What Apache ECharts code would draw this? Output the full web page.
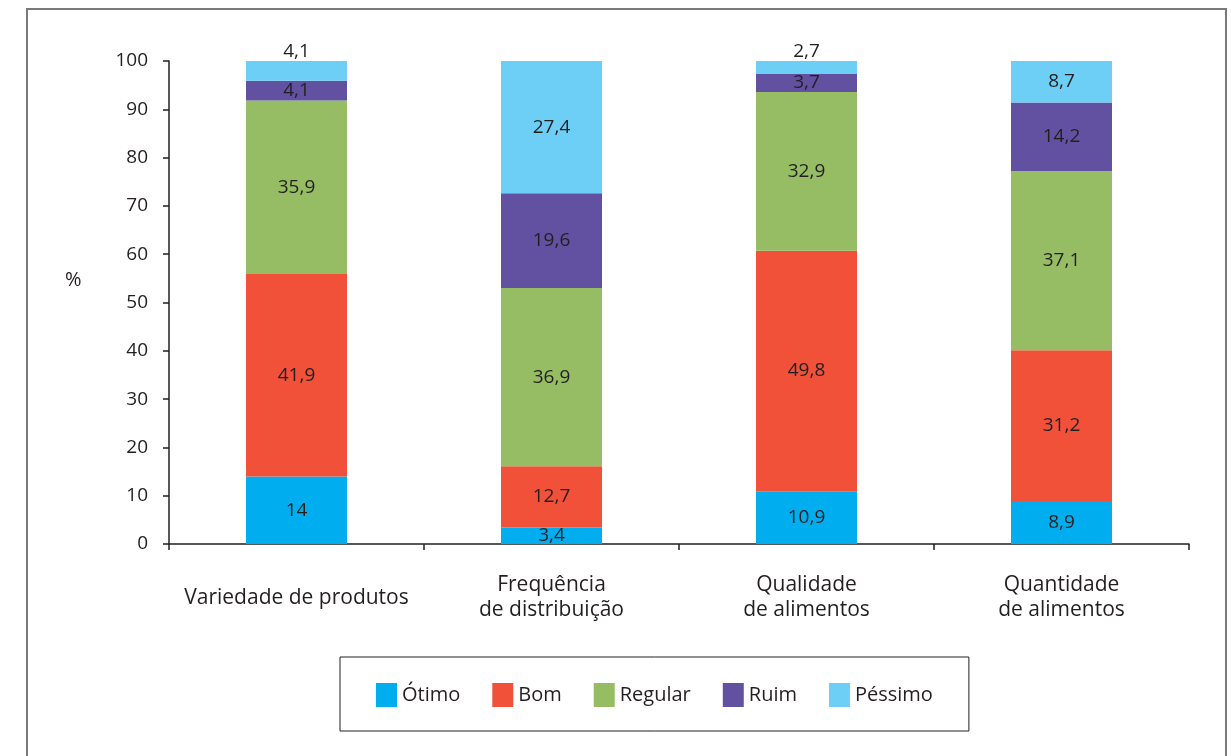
<!DOCTYPE html>
<html>
<head>
<meta charset="utf-8">
<script src="https://cdn.jsdelivr.net/npm/echarts@6/dist/echarts.min.js"></script>
<style>
  html, body { margin: 0; padding: 0; background: #fff; }
  #chart { width: 1231px; height: 756px; }
</style>
</head>
<body>
<div id="chart"></div>
<script>
var categories = ['Variedade de produtos', 'Frequência\nde distribuição', 'Qualidade\nde alimentos', 'Quantidade\nde alimentos'];
var otimo = [14, 3.4, 10.9, 8.9];
var bom = [41.9, 12.7, 49.8, 31.2];
var regular = [35.9, 36.9, 32.9, 37.1];
var ruim = [4.1, 19.6, 3.7, 14.2];
var pessimo = [4.1, 27.4, 2.7, 8.7];
var yTicks = [0, 10, 20, 30, 40, 50, 60, 70, 80, 90, 100];

var font = 'Open Sans';

function fmt(p) {
    return String(p.value).replace('.', ',');
}

function makeSeries(name, values, color, smallOnTop) {
    return {
        name: name,
        type: 'bar',
        stack: 'total',
        barWidth: 101,
        itemStyle: { color: color },
        label: {
            show: true,
            position: 'inside',
            color: '#231f20',
            fontFamily: font,
            fontSize: 19,
            formatter: fmt
        },
        data: values.map(function (v) {
            // tiny top segments get their label above the bar
            if (smallOnTop && v < 5) {
                return { value: v, label: { position: 'top', distance: 0 } };
            }
            return v;
        })
    };
}

var chart = echarts.init(document.getElementById('chart'));
chart.setOption({
    backgroundColor: '#fff',
    animation: false,
    textStyle: { fontFamily: font },
    graphic: [{
        type: 'rect',
        shape: { x: 27, y: 9, width: 1199, height: 770 },
        style: { fill: 'none', stroke: '#7a7a7a', lineWidth: 2 }
    }, {
        type: 'text',
        left: 65,
        top: 270,
        style: { text: '%', font: '20px "Open Sans"', fill: '#231f20' }
    }],
    grid: { left: 169, right: 42, top: 61, bottom: 212 },
    legend: {
        left: 340,
        top: 657,
        padding: [26, 36, 24, 36],
        borderColor: '#231f20',
        borderWidth: 1,
        itemWidth: 21,
        itemHeight: 24,
        itemGap: 32,
        icon: 'rect',
        textStyle: { fontFamily: font, fontSize: 20, color: '#231f20' },
        data: ['Ótimo', 'Bom', 'Regular', 'Ruim', 'Péssimo']
    },
    xAxis: {
        type: 'category',
        data: categories,
        boundaryGap: true,
        axisLine: { lineStyle: { color: '#231f20', width: 1.5 } },
        axisTick: { show: true, length: 6, lineStyle: { color: '#231f20', width: 1.5 } },
        axisLabel: {
            interval: 0,
            margin: 54,
            verticalAlign: 'middle',
            fontFamily: font,
            fontSize: 21,
            lineHeight: 25,
            color: '#231f20'
        }
    },
    yAxis: {
        type: 'value',
        min: yTicks[0],
        max: yTicks[yTicks.length - 1],
        interval: 10,
        splitLine: { show: false },
        axisLine: { show: true, lineStyle: { color: '#231f20', width: 1.5 } },
        axisTick: { show: true, length: 6, lineStyle: { color: '#231f20', width: 1.5 } },
        axisLabel: { margin: 21, fontFamily: font, fontSize: 19, color: '#231f20' }
    },
    series: [
        makeSeries('Ótimo', otimo, '#00aeef', false),
        makeSeries('Bom', bom, '#f15138', false),
        makeSeries('Regular', regular, '#96bd64', false),
        makeSeries('Ruim', ruim, '#6251a0', false),
        makeSeries('Péssimo', pessimo, '#6dcff6', true)
    ]
});
</script>
</body>
</html>
